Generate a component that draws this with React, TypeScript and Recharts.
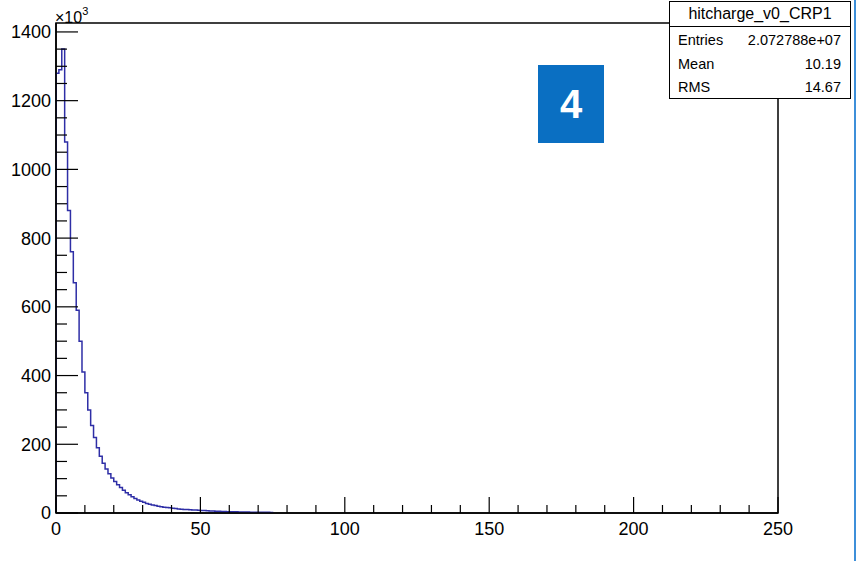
import React from "react";
import { ComposedChart, Line, XAxis, YAxis, ReferenceArea } from "recharts";

// hitcharge_v0_CRP1 histogram, bin width 1, counts in units of 10^3
const binCounts = [
  1280, 1290, 1350, 1080, 880, 760, 670, 590, 500, 410,
  350, 300, 255, 220, 190, 165, 145, 128, 114, 102,
  92, 82, 74, 66, 59, 53, 47, 42, 38, 34,
  31, 28, 25.5, 23.5, 21.5, 19.5, 18, 17, 16, 15,
  14, 13, 12, 11, 10.5, 10, 9.5, 9, 8.5, 8,
  7.5, 7, 6.5, 6, 5.5, 5, 4.8, 4.5, 4.2, 4,
  3.8, 3.6, 3.4, 3.2, 3, 2.8, 2.7, 2.5, 2.4, 2.3,
  2.2, 2.1, 2, 1.9, 1.8,
];
const binWidth = 1;

const xTicks = [0, 10, 20, 30, 40, 50, 60, 70, 80, 90, 100, 110, 120, 130, 140, 150, 160, 170, 180, 190, 200, 210, 220, 230, 240, 250];
const xMajor = [0, 50, 100, 150, 200, 250];
const yTicks = [0, 50, 100, 150, 200, 250, 300, 350, 400, 450, 500, 550, 600, 650, 700, 750, 800, 850, 900, 950, 1000, 1050, 1100, 1150, 1200, 1250, 1300, 1350, 1400];
const yMajor = [0, 200, 400, 600, 800, 1000, 1200, 1400];

const statsTitle = "hitcharge_v0_CRP1";
const statsRows = [
  ["Entries", "2.072788e+07"],
  ["Mean", "10.19"],
  ["RMS", "14.67"],
];

const FONT = "'Liberation Sans', Arial, Helvetica, sans-serif";

// step outline: start at (0,0), then each bin's low edge, close at last edge
const histData = [
  { x: 0, y: 0 },
  ...binCounts.map((c, i) => ({ x: i * binWidth, y: c })),
  { x: binCounts.length * binWidth, y: 0 },
];

const YTick = (props: any) => {
  const { x, y, payload } = props;
  const major = yMajor.includes(payload.value);
  return (
    <g>
      <line x1={x} x2={x + (major ? 22 : 11)} y1={y} y2={y} stroke="#000" strokeWidth={1.2} />
      {major && (
        <text x={x - 5} y={y} dy="0.36em" textAnchor="end" fontSize={18} fontFamily={FONT} fill="#000">
          {payload.value}
        </text>
      )}
    </g>
  );
};

const XTick = (props: any) => {
  const { x, y, payload } = props;
  const major = xMajor.includes(payload.value);
  return (
    <g>
      <line x1={x} x2={x} y1={y} y2={y - (major ? 16 : 8)} stroke="#000" strokeWidth={1.2} />
      {major && (
        <text x={x} y={y + 22} textAnchor="middle" fontSize={18} fontFamily={FONT} fill="#000">
          {payload.value}
        </text>
      )}
    </g>
  );
};

export default function App() {
  return (
    <div style={{ position: "absolute", left: 0, top: 0, width: 861, height: 561, background: "#fff", fontFamily: FONT }}>
      <ComposedChart width={861} height={561} data={histData} margin={{ top: 23, right: 83, bottom: 0, left: 0 }}>
        <XAxis
          dataKey="x"
          type="number"
          domain={[0, 250]}
          ticks={xTicks}
          interval={0}
          tick={<XTick />}
          tickLine={false}
          tickSize={0}
          tickMargin={0}
          height={48}
          axisLine={{ stroke: "#000", strokeWidth: 1.5 }}
          allowDataOverflow
        />
        <YAxis
          type="number"
          domain={[0, 1426]}
          ticks={yTicks}
          interval={0}
          tick={<YTick />}
          tickLine={false}
          tickSize={0}
          tickMargin={0}
          width={56}
          axisLine={{ stroke: "#000", strokeWidth: 1.5 }}
          allowDataOverflow
        />
        <ReferenceArea x1={0} x2={250} y1={0} y2={1426} fill="none" stroke="#000" strokeWidth={1.5} ifOverflow="visible" />
        <Line
          dataKey="y"
          type="stepAfter"
          stroke="#2e2ea6"
          strokeWidth={1.5}
          dot={false}
          isAnimationActive={false}
        />
      </ComposedChart>

      {/* exponent label */}
      <div style={{ position: "absolute", left: 55, top: 4, fontSize: 16, lineHeight: "18px", color: "#000" }}>
        ×10<sup style={{ fontSize: 11, position: "relative", top: -2 }}>3</sup>
      </div>

      {/* stats box */}
      <div
        style={{
          position: "absolute",
          left: 669,
          top: 1,
          width: 182,
          height: 98,
          border: "1.5px solid #000",
          background: "#fff",
          boxSizing: "border-box",
          color: "#000",
        }}
      >
        <div style={{ height: 24, borderBottom: "1.5px solid #000", textAlign: "center", fontSize: 16, lineHeight: "24px" }}>
          {statsTitle}
        </div>
        {statsRows.map(([k, v]) => (
          <div key={k} style={{ display: "flex", justifyContent: "space-between", padding: "0 9px 0 8px", fontSize: 14.5, height: 23.5, lineHeight: "26px" }}>
            <span>{k}</span>
            <span>{v}</span>
          </div>
        ))}
      </div>

      {/* panel badge */}
      <div
        style={{
          position: "absolute",
          left: 538,
          top: 65,
          width: 66,
          height: 78,
          background: "#0a6fc2",
          color: "#fff",
          fontWeight: "bold",
          fontSize: 40,
          display: "flex",
          alignItems: "center",
          justifyContent: "center",
        }}
      >
        4
      </div>

      {/* screenshot edge line */}
      <div style={{ position: "absolute", left: 854, top: 0, width: 2, height: 561, background: "#3d8fd9" }} />
    </div>
  );
}
